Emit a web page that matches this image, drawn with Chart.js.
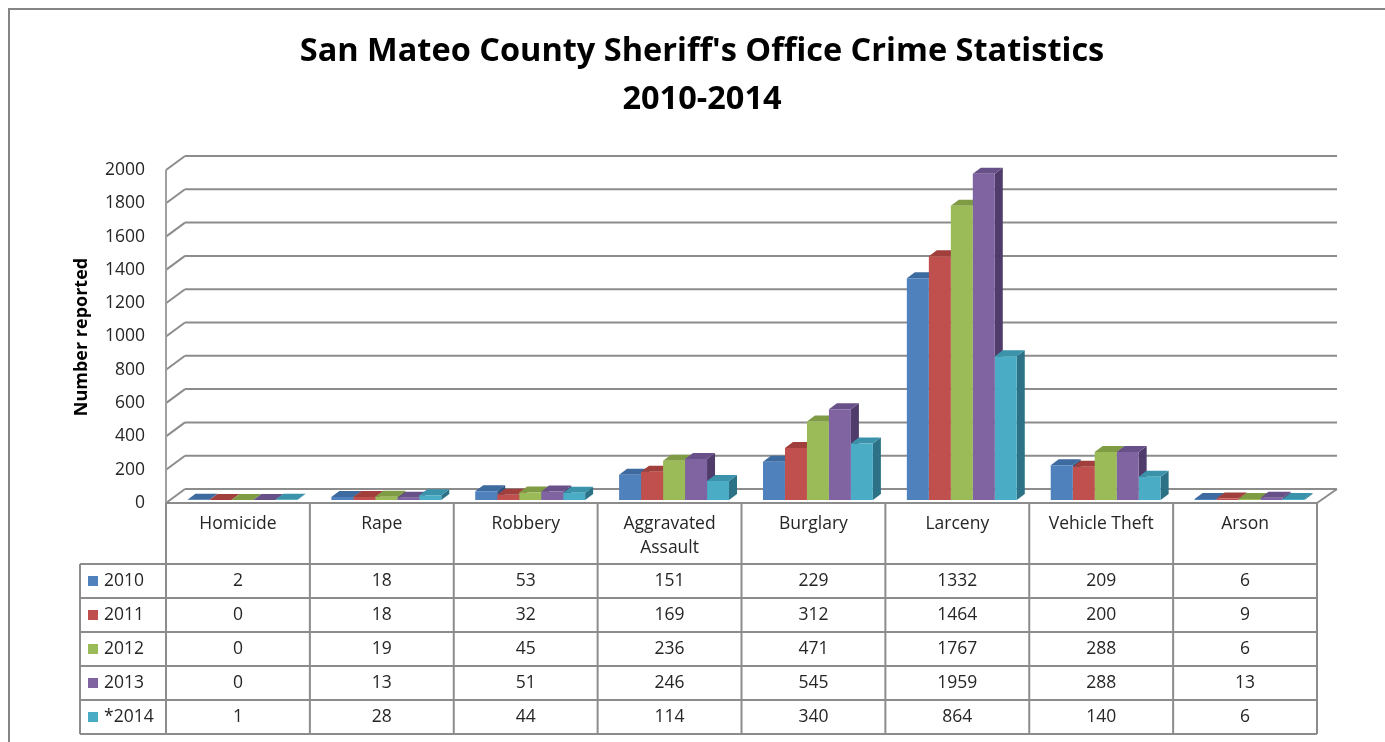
<!DOCTYPE html>
<html>
<head>
<meta charset="utf-8">
<script src="https://cdn.jsdelivr.net/npm/chart.js@4/dist/chart.umd.min.js"></script>
<style>
  html, body { margin: 0; padding: 0; background: #fff; }
  canvas { display: block; }
</style>
</head>
<body>
<canvas id="c" width="1385" height="742"></canvas>
<script>
// ---- data ----
const titleLines = ["San Mateo County Sheriff's Office Crime Statistics", "2010-2014"];
const yAxisTitle = "Number reported";
const categories = ["Homicide", "Rape", "Robbery", ["Aggravated", "Assault"], "Burglary", "Larceny", "Vehicle Theft", "Arson"];
const seriesNames = ["2010", "2011", "2012", "2013", "*2014"];
const v2010 = [2, 18, 53, 151, 229, 1332, 209, 6];
const v2011 = [0, 18, 32, 169, 312, 1464, 200, 9];
const v2012 = [0, 19, 45, 236, 471, 1767, 288, 6];
const v2013 = [0, 13, 51, 246, 545, 1959, 288, 13];
const v2014 = [1, 28, 44, 114, 340, 864, 140, 6];
const yMin = 0, yMax = 2000, yStep = 200;

// ---- styles ----
const seriesValues = [v2010, v2011, v2012, v2013, v2014];
const frontColors = ["#4F81BD", "#C0504D", "#9BBB59", "#8064A2", "#4BACC6"];
const topColors   = ["#3D6A9F", "#A13F3C", "#7F9C45", "#685088", "#3A93AB"];
const sideColors  = ["#2F5280", "#84302E", "#637A35", "#4F3C6A", "#2C7185"];
const FONT = "'Open Sans', Lato, sans-serif";
const gridColor = "#8c8c8c";
const textColor = "#262626";
const DEPTH_X = 8, DEPTH_Y = 6;          // bar extrusion
const FRONT_DX = -4.5, FRONT_DY = 3;      // front plane offset from bar plane
const BACK_DX = 14.5, BACK_DY = -11;      // back wall offset from bar plane

function poly(ctx, pts, fill) {
  ctx.beginPath();
  ctx.moveTo(pts[0][0], pts[0][1]);
  for (let i = 1; i < pts.length; i++) ctx.lineTo(pts[i][0], pts[i][1]);
  ctx.closePath();
  ctx.fillStyle = fill;
  ctx.fill();
}
function line(ctx, x1, y1, x2, y2) {
  ctx.beginPath(); ctx.moveTo(x1, y1); ctx.lineTo(x2, y2); ctx.stroke();
}

const frame3d = {
  id: "frame3d",
  beforeDraw(chart) {
    const ctx = chart.ctx;
    ctx.save();
    ctx.fillStyle = "#fff";
    ctx.fillRect(0, 0, chart.width, chart.height);
    // outer border
    ctx.strokeStyle = "#858585";
    ctx.lineWidth = 2;
    ctx.strokeRect(9, 9, chart.width + 20, chart.height + 20);
    // title
    ctx.fillStyle = "#000";
    ctx.textAlign = "center";
    ctx.textBaseline = "middle";
    ctx.font = "bold 32.5px " + FONT;
    ctx.fillText(titleLines[0], 702, 52);
    ctx.fillText(titleLines[1], 702, 100);
    // y axis title
    ctx.save();
    ctx.translate(82, 337);
    ctx.rotate(-Math.PI / 2);
    ctx.font = "bold 18px " + FONT;
    ctx.fillText(yAxisTitle, 0, 0);
    ctx.restore();
    ctx.restore();
  },
  beforeDatasetsDraw(chart) {
    const ctx = chart.ctx;
    const ys = chart.scales.y;
    const L = chart.chartArea.left, R = chart.chartArea.right;
    ctx.save();
    ctx.strokeStyle = gridColor;
    ctx.lineWidth = 2;
    for (let v = yMin; v <= yMax; v += yStep) {
      const y = ys.getPixelForValue(v);
      line(ctx, L + FRONT_DX, y + FRONT_DY, L + BACK_DX, y + BACK_DY);
      line(ctx, L + BACK_DX, y + BACK_DY, R + BACK_DX + 1, y + BACK_DY);
    }
    // floor right edge
    const y0 = ys.getPixelForValue(0);
    line(ctx, R + FRONT_DX, y0 + FRONT_DY, R + BACK_DX + 1, y0 + BACK_DY);
    // left wall front edge
    ctx.strokeStyle = "#a0a0a0";
    line(ctx, L + FRONT_DX, ys.getPixelForValue(yMax) + FRONT_DY, L + FRONT_DX, y0 + FRONT_DY);
    // 3D faces (top + side), left to right
    const n = categories.length;
    for (let i = 0; i < n; i++) {
      for (let d = 0; d < seriesValues.length; d++) {
        const el = chart.getDatasetMeta(d).data[i];
        const l = el.x - el.width / 2, r = el.x + el.width / 2;
        const t = el.y, b = el.base;
        poly(ctx, [[r, t], [r + DEPTH_X, t - DEPTH_Y], [r + DEPTH_X, b - DEPTH_Y], [r, b]], sideColors[d]);
        poly(ctx, [[l, t], [r, t], [r + DEPTH_X, t - DEPTH_Y], [l + DEPTH_X, t - DEPTH_Y]], topColors[d]);
      }
    }
    ctx.restore();
  },
  afterDraw(chart) {
    const ctx = chart.ctx;
    const xs = chart.scales.x, ys = chart.scales.y;
    const n = categories.length;
    const colW = (chart.chartArea.right - chart.chartArea.left) / n;
    const left = chart.chartArea.left + FRONT_DX;
    const right = chart.chartArea.right + FRONT_DX;
    const top = ys.getPixelForValue(0) + FRONT_DY;
    const headerBottom = top + 61;
    const rowH = 34;
    const legendLeft = 80;
    const bottom = headerBottom + rowH * seriesNames.length;
    ctx.save();
    ctx.strokeStyle = gridColor;
    ctx.lineWidth = 2;
    // horizontals
    line(ctx, left, top, right, top);
    for (let r = 0; r <= seriesNames.length; r++) {
      const y = headerBottom + r * rowH;
      line(ctx, legendLeft, y, right, y);
    }
    // verticals
    for (let c = 0; c <= n; c++) {
      const x = left + c * colW;
      line(ctx, x, top, x, bottom);
    }
    line(ctx, legendLeft, headerBottom, legendLeft, bottom);
    // header text
    ctx.fillStyle = textColor;
    ctx.font = "17.5px " + FONT;
    ctx.textAlign = "center";
    ctx.textBaseline = "middle";
    for (let c = 0; c < n; c++) {
      const cx = xs.getPixelForValue(c) + FRONT_DX;
      const lab = Array.isArray(categories[c]) ? categories[c] : [categories[c]];
      lab.forEach((s, k) => ctx.fillText(s, cx, top + 21 + k * 24));
    }
    // rows
    for (let r = 0; r < seriesNames.length; r++) {
      const cy = headerBottom + r * rowH + rowH / 2;
      ctx.fillStyle = frontColors[r];
      ctx.fillRect(legendLeft + 8, cy - 5, 10, 10);
      ctx.fillStyle = textColor;
      ctx.textAlign = "left";
      ctx.fillText(seriesNames[r], legendLeft + 24, cy);
      ctx.textAlign = "center";
      for (let c = 0; c < n; c++) {
        const cx = xs.getPixelForValue(c) + FRONT_DX;
        ctx.fillText(String(seriesValues[r][c]), cx, cy);
      }
    }
    ctx.restore();
  }
};

new Chart(document.getElementById("c"), {
  type: "bar",
  data: {
    labels: categories,
    datasets: seriesNames.map((name, d) => ({
      label: name,
      data: seriesValues[d],
      backgroundColor: frontColors[d],
      borderWidth: 0,
      categoryPercentage: 0.764,
      barPercentage: 1.0
    }))
  },
  options: {
    responsive: false,
    devicePixelRatio: 1,
    animation: false,
    layout: { padding: { left: 0, right: 63.5, top: 167, bottom: 242 } },
    plugins: { legend: { display: false }, tooltip: { enabled: false }, title: { display: false } },
    scales: {
      x: { display: false },
      y: {
        min: yMin, max: yMax,
        grid: { display: false, drawTicks: false },
        border: { display: false },
        ticks: {
          stepSize: yStep, padding: 25.5, labelOffset: 3, color: textColor,
          font: { family: FONT, size: 17.5 },
          callback: (v) => String(v)
        },
        afterFit(scale) { scale.width = 170.5; }
      }
    }
  },
  plugins: [frame3d]
});
</script>
</body>
</html>
